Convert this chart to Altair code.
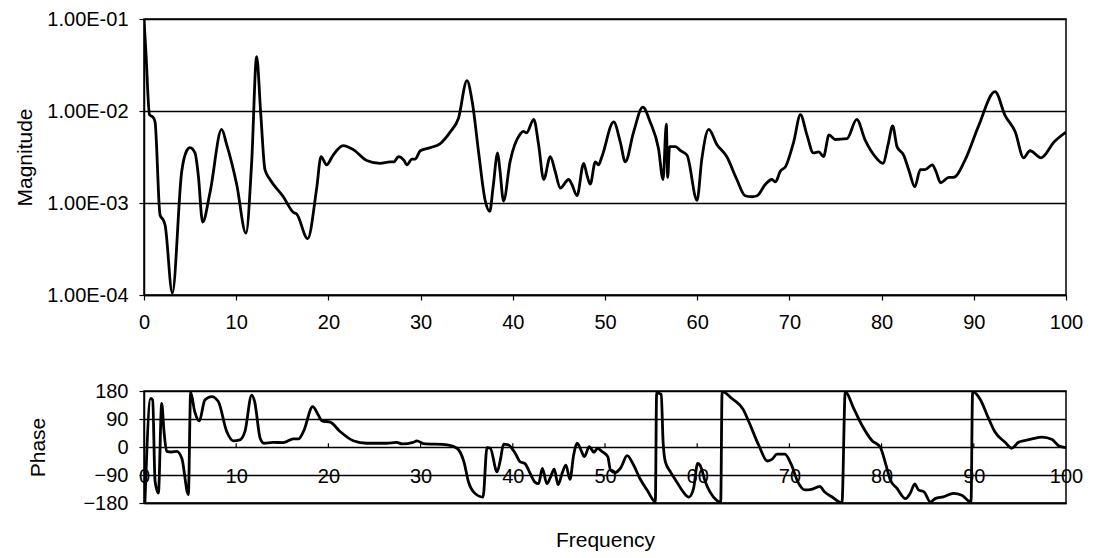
import altair as alt
import pandas as pd

# ---- Magnitude curve (frequency, magnitude) ----
mag_freq = [0, 0.2, 0.6, 1.0, 1.2, 1.74, 2.1, 2.28, 3.07, 4.09, 4.63, 4.99, 5.53, 5.89,
            6.36, 7.16, 8.42, 8.97, 10.05, 11.06, 11.68, 12.22, 12.65, 13.12, 13.67, 15.11,
            16.2, 16.56, 17.75, 18.73, 19.2, 19.8, 20.5, 21.6, 22.7, 24.15, 25.6, 26.7,
            27.1, 27.6, 28.2, 28.5, 29.07, 29.4, 29.97, 31.05, 32.1, 33.2, 34.1, 35.03,
            35.6, 36.3, 37.0, 37.5, 37.85, 38.36, 38.6, 39.0, 39.7, 40.8, 41.14, 41.5,
            42.27, 42.8, 43.35, 44.07, 44.6, 45.15, 46.06, 46.4, 46.96, 47.69, 48.05, 48.4,
            48.95, 49.3, 49.67, 50.94, 51.66, 52.2, 53.1, 54.1, 54.9, 55.8, 56.3, 56.65,
            56.8, 57.0, 57.63, 58.2, 58.9, 59.98, 60.5, 61.25, 62.15, 63.2, 64.3, 65.2,
            65.9, 66.5, 67.4, 68.1, 68.5, 69.0, 69.6, 70.46, 71.2, 71.9, 72.6, 73.2,
            73.7, 74.3, 74.95, 76.25, 77.3, 78.23, 79.3, 80.15, 80.7, 81.2, 81.67, 82.4,
            83.0, 83.6, 84.2, 84.7, 85.5, 85.9, 86.4, 87.3, 87.8, 89.1, 90.5, 92.3,
            93.4, 94.5, 95.4, 96.1, 97.3, 98.7, 100]
mag_vals = [0.098, 0.045, 0.0091, 0.0085, 0.0076, 0.00074, 0.00065, 0.00058, 0.000105,
            0.0022, 0.0037, 0.0040, 0.0035, 0.0020, 0.00062, 0.0013, 0.0063, 0.0043,
            0.0016, 0.00047, 0.0028, 0.039, 0.0098, 0.0023, 0.0018, 0.00117, 0.00079,
            0.00076, 0.00041, 0.00145, 0.0032, 0.0026, 0.0033, 0.0042, 0.0038, 0.0029,
            0.0027, 0.0028,
            0.0028, 0.0032, 0.0029, 0.0026, 0.0030, 0.0030, 0.0037, 0.0040, 0.0044,
            0.0059, 0.0083, 0.0214, 0.0126, 0.0035, 0.00107, 0.00081, 0.00145, 0.0035,
            0.0023, 0.00105, 0.0028, 0.0056, 0.0060, 0.0058, 0.0081, 0.0043, 0.0018,
            0.0032, 0.0022, 0.00145, 0.0018, 0.0016, 0.0012, 0.0027, 0.0020, 0.0016,
            0.0028, 0.0026, 0.0032, 0.0076, 0.0046, 0.0028, 0.0059, 0.011, 0.0076,
            0.0039, 0.0018, 0.0072, 0.0019, 0.0041, 0.0041, 0.0037, 0.0033, 0.00107,
            0.0030, 0.0063, 0.0043, 0.0032, 0.0018, 0.0012, 0.00117, 0.0012, 0.0016,
            0.0018, 0.0017, 0.0022, 0.0025, 0.0046, 0.0091, 0.0055, 0.0035, 0.0036,
            0.0032, 0.0055, 0.0049, 0.0050, 0.0081, 0.0048, 0.0032, 0.0027, 0.0043,
            0.0069, 0.0041, 0.0033, 0.0022, 0.0015, 0.0023, 0.0023, 0.0026, 0.0022,
            0.00166, 0.0019, 0.0019, 0.0030, 0.0068, 0.0162, 0.0089, 0.0059, 0.0031,
            0.0037, 0.0031, 0.0046, 0.0059]

# ---- Phase curve (frequency, degrees) ----
ph_freq = [0.1, 0.72, 0.94, 1.2, 1.56, 1.92, 2.17, 2.46, 3.0, 3.54, 4.1, 4.81, 5.06, 5.5,
           6.0, 6.6, 7.34, 8.06, 8.97, 9.69, 10.4, 10.95, 11.68, 12.0, 12.6, 13.0, 14.0,
           15.1, 16.2, 16.75, 17.3, 18.3, 18.9, 19.3, 20.2, 21.26, 22.7, 24.15, 26.3,
           27.4, 28.0, 29.2, 29.6, 30.3, 32.9, 33.95, 34.7, 35.2, 35.76, 36.77, 37.2,
           37.56, 38.29, 38.65, 39.0, 39.5, 40.26, 40.8, 41.3, 41.9, 42.4, 42.8, 43.2,
           43.7, 44.1, 44.5, 44.9, 45.4, 45.76, 46.2, 46.6, 46.96, 47.4, 47.76, 48.3,
           48.8, 49.2, 49.7, 50.3, 50.6, 51.1, 51.7, 52.4, 53.1, 53.8, 54.6, 55.46,
           55.6, 56.1, 56.3, 56.55, 57.1, 57.8, 58.5, 59.1, 59.6, 60.05, 60.3, 60.9,
           61.4, 62.15, 62.55, 62.7, 63.8, 65.0, 65.6, 66.7, 67.6, 68.1, 68.66, 69.5,
           70.2, 70.9, 71.7, 72.4, 73.3, 73.8, 74.6, 75.7, 76.06, 76.96, 77.87, 78.95,
           79.86, 80.4, 80.94, 81.67, 82.6, 83.1, 83.6, 84.0, 84.6, 85.3, 85.8, 86.7,
           87.8, 88.7, 89.7, 89.87, 90.7, 91.6, 92.3, 93.4, 94.1, 94.85, 95.6, 96.3,
           97.4, 98.5, 99.2, 100]
ph_vals = [-178, 156, 151, -110, -148, 140, 50, -14, -16, -14, -36, -153, 176, 114,
           84, 151, 162, 146, 50, 20, 23, 50, 167, 146, 28, 12, 15,
           14, 26, 26, 50, 130, 103, 84, 80, 50, 20, 12, 12,
           15, 10, 15, 20, 11, 7, -4, -48, -113, -145, -161, -2,
           -4, -80, -42, 9, 7, -20, -48, -53, -86, -113, -118, -69,
           -118, -96, -71, -121, -80, -58, -104, -26, 12, -10, -31, 1,
           -17, -4, -15, -31, -75, -82, -67, -28, -58, -102, -140, -176,
           175, 169, 17, -48, -80, -113, -145, -161, -134, -53, -58, -113,
           -145, -172, -178, 178, 155, 120, 81, 4, -45, -40, -23, -23,
           -56, -111, -138, -136, -127, -144, -160, -180, 178, 125, 70, 21,
           -1, -50, -105, -133, -166, -149, -119, -138, -144, -177, -166, -160,
           -149, -155, -177, 178, 153, 92, 48, 15, -4, 15, 21, 26,
           32, 24, 4, -2]

x_ticks = [0, 10, 20, 30, 40, 50, 60, 70, 80, 90, 100]
inner_ticks = [10, 20, 30, 40, 50, 60, 70, 80, 90]
mag_ticks = [1e-4, 1e-3, 1e-2, 1e-1]
phase_ticks = [-180, -90, 0, 90, 180]

mag_df = pd.DataFrame({"f": mag_freq, "m": mag_vals})
ph_df = pd.DataFrame({"f": ph_freq, "p": ph_vals})
tick_df = pd.DataFrame({"f": inner_ticks})

W = 922
xscale = alt.Scale(domain=[0, 100], nice=False, zero=False)
pscale = alt.Scale(domain=[-180, 180], nice=False)

top = alt.Chart(mag_df).mark_line(
    color="black", strokeWidth=2.8, interpolate="monotone", clip=True
).encode(
    x=alt.X("f:Q", scale=xscale,
            axis=alt.Axis(values=x_ticks, title=None, grid=False, tickSize=5,
                          labelPadding=12, labelFlush=False, labelOverlap=False)),
    y=alt.Y("m:Q", scale=alt.Scale(type="log", domain=[1e-4, 1e-1], nice=False),
            axis=alt.Axis(values=mag_ticks, title="Magnitude", grid=True, tickSize=5,
                          labelPadding=11, labelFlush=False, labelOverlap=False,
                          labelExpr="'1.00E-0' + round(-log(datum.value)/LN10)",
                          titleX=-119, titleBaseline="middle")),
).properties(width=W, height=276)

ph_axis_y = alt.Axis(values=phase_ticks, title="Phase", grid=True, tickSize=5,
                     labelPadding=11, labelFlush=False, labelOverlap=False,
                     titleX=-106, titleBaseline="middle")
ph_axis_x = alt.Axis(values=x_ticks, title="Frequency", grid=False, ticks=False,
                     labelPadding=-37, labelFlush=False, labelOverlap=False,
                     titleY=37, titleBaseline="middle")

ph_line = alt.Chart(ph_df).mark_line(
    color="black", strokeWidth=2.8, interpolate="monotone", clip=True
).encode(
    x=alt.X("f:Q", scale=xscale, axis=ph_axis_x),
    y=alt.Y("p:Q", scale=pscale, axis=ph_axis_y),
)

ph_ticks = alt.Chart(tick_df).mark_rule(color="black", strokeWidth=1.2).encode(
    x=alt.X("f:Q", scale=xscale, axis=ph_axis_x),
    y=alt.YDatum(0, scale=pscale, axis=ph_axis_y),
    y2=alt.Y2Datum(12),
)

bottom = alt.layer(ph_line, ph_ticks).properties(width=W, height=112)

chart = alt.vconcat(top, bottom, spacing=96, bounds="flush").properties(
    padding={"left": 5, "top": 0, "right": 5, "bottom": 5}
).configure_axis(
    labelFont="Liberation Sans", titleFont="Liberation Sans",
    labelFontSize=20, titleFontSize=21, titleFontWeight="normal",
    labelColor="black", titleColor="black",
    domainColor="black", domainWidth=1.5,
    tickColor="black", tickWidth=1.2,
    gridColor="black", gridWidth=1.5, gridOpacity=1,
).configure_view(stroke="black", strokeWidth=1.5)

chart.save("out.html", embed_options={"renderer": "svg", "actions": False})
